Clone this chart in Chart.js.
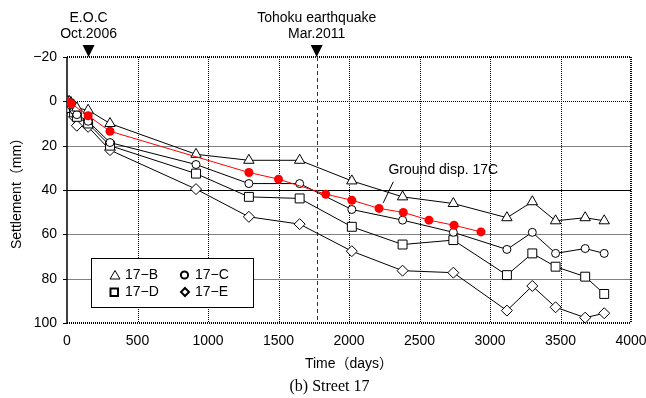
<!DOCTYPE html>
<html>
<head>
<meta charset="utf-8">
<script src="https://cdn.jsdelivr.net/npm/chart.js@4.4.1/dist/chart.umd.min.js"></script>
<style>
html,body{margin:0;padding:0;background:#fff;}
canvas{display:block;}
</style>
</head>
<body>
<canvas id="c" width="646" height="398"></canvas>
<script>
// ---- data ----
const surveyDays = [0, 15, 30, 50, 70, 150, 305, 915, 1290, 1650, 2020, 2380, 2740, 3120, 3300, 3465, 3675, 3810];
const settle17B = [0, 0, 1, 2, 3, 4, 10, 23.9, 26.6, 26.6, 35.9, 43.1, 46.1, 52.5, 45.3, 53.9, 52.5, 53.9];
const settle17C = [0, 0.5, 2, 4, 6, 9, 18.6, 28.5, 37.1, 37.1, 48.8, 53.6, 59.1, 66.8, 59.1, 68.6, 66.4, 68.6];
const settle17D = [0, 1, 3, 5, 7, 10, 20, 32.6, 43.1, 43.8, 56.6, 64.6, 62.6, 78.4, 68.6, 74.6, 79.1, 86.9];
const settle17E = [0, 1, 3, 7, 11, 11.5, 22, 39.6, 52.1, 55.4, 67.6, 76.4, 77.3, 94.4, 83.3, 92.9, 97.6, 95.6];
const groundDays = [0, 30, 150, 305, 1290, 1500, 1835, 2020, 2213, 2385, 2567, 2745, 2936];
const ground17C = [0, 1, 6.5, 13.5, 32.1, 35.1, 41.9, 44.6, 48.3, 50.1, 53.6, 55.9, 58.9];
const xTickValues = [0, 500, 1000, 1500, 2000, 2500, 3000, 3500, 4000];
const yTickValues = [-20, 0, 20, 40, 60, 80, 100];
const eventDays = [153, 1771];
const eventLabels = [["E.O.C", "Oct.2006"], ["Tohoku earthquake", "Mar.2011"]];
const seriesNames = ["17\u2212B", "17\u2212C", "17\u2212D", "17\u2212E"];

function pts(xs, ys) { return xs.map((x, i) => ({x: x, y: ys[i]})); }

const SANS = "'Liberation Sans', Arial, 'Noto Sans CJK JP', sans-serif";

const blackDs = (label, ys, style, r) => ({
  label: label, data: pts(surveyDays, ys), borderColor: '#000', borderWidth: 1,
  pointStyle: style, pointRadius: r, pointBackgroundColor: '#fff',
  pointBorderColor: '#000', pointBorderWidth: 1, showLine: true, tension: 0
});

const decorPlugin = {
  id: 'decor',
  beforeDatasetsDraw(chart) {
    const {ctx, chartArea: a, scales: {x, y}} = chart;
    ctx.save();
    ctx.lineWidth = 1;
    ctx.strokeStyle = '#000';
    ctx.setLineDash([1, 1]);
    xTickValues.forEach(v => {
      if (v === 0 || v === 4000) return;
      const px = Math.round(x.getPixelForValue(v)) + 0.5;
      ctx.beginPath(); ctx.moveTo(px, a.top); ctx.lineTo(px, a.bottom); ctx.stroke();
    });
    yTickValues.forEach(v => {
      if (v === -20 || v === 100) return;
      const py = Math.round(y.getPixelForValue(v)) + 0.5;
      if (v === 0) { ctx.setLineDash([1, 1]); ctx.strokeStyle = '#000'; }
      else if (v === 40) { ctx.setLineDash([]); ctx.strokeStyle = '#000'; }
      else { ctx.setLineDash([]); ctx.strokeStyle = '#808080'; }
      ctx.beginPath(); ctx.moveTo(a.left, py); ctx.lineTo(a.right, py); ctx.stroke();
    });
    ctx.setLineDash([1, 1]);
    ctx.strokeStyle = '#000';
    ctx.lineWidth = 2;
    ctx.beginPath(); ctx.moveTo(a.left, a.top); ctx.lineTo(a.right, a.top); ctx.stroke();
    ctx.beginPath(); ctx.moveTo(a.right, a.top); ctx.lineTo(a.right, a.bottom); ctx.stroke();
    ctx.beginPath(); ctx.moveTo(a.left, a.bottom); ctx.lineTo(a.right, a.bottom); ctx.stroke();
    ctx.setLineDash([]);
    ctx.lineWidth = 1.5;
    ctx.beginPath(); ctx.moveTo(a.left, a.top); ctx.lineTo(a.left, a.bottom); ctx.stroke();
    ctx.lineWidth = 1;
    yTickValues.forEach(v => {
      const py = Math.round(y.getPixelForValue(v)) + 0.5;
      ctx.beginPath(); ctx.moveTo(a.left - 4, py); ctx.lineTo(a.left, py); ctx.stroke();
    });
    const qx = Math.round(x.getPixelForValue(eventDays[1])) + 0.5;
    ctx.setLineDash([4, 3]);
    ctx.strokeStyle = '#333';
    ctx.beginPath(); ctx.moveTo(qx, a.top); ctx.lineTo(qx, a.bottom); ctx.stroke();
    ctx.restore();
  },
  afterDraw(chart) {
    const {ctx, chartArea: a, scales: {x, y}} = chart;
    ctx.save();
    ctx.fillStyle = '#000';
    ctx.strokeStyle = '#000';
    ctx.setLineDash([]);
    eventDays.forEach((d, i) => {
      const px = x.getPixelForValue(d);
      ctx.beginPath();
      ctx.moveTo(px - 6, a.top - 12); ctx.lineTo(px + 6, a.top - 12); ctx.lineTo(px, a.top);
      ctx.closePath(); ctx.fill();
      ctx.font = '14px ' + SANS;
      ctx.textAlign = 'center'; ctx.textBaseline = 'middle';
      ctx.fillText(eventLabels[i][0], px, 18);
      ctx.fillText(eventLabels[i][1], px, 34);
    });
    ctx.font = '14px ' + SANS;
    ctx.textAlign = 'left'; ctx.textBaseline = 'middle';
    ctx.fillText('Ground disp. 17C', x.getPixelForValue(2280), y.getPixelForValue(31));
    ctx.lineWidth = 1;
    ctx.beginPath();
    ctx.moveTo(x.getPixelForValue(2314), y.getPixelForValue(36.3));
    ctx.lineTo(x.getPixelForValue(2243), y.getPixelForValue(45.8));
    ctx.stroke();
    // legend box
    ctx.fillStyle = '#fff';
    ctx.fillRect(91, 258, 162, 49);
    ctx.lineWidth = 1;
    ctx.strokeRect(91.5, 258.5, 162, 49);
    ctx.fillStyle = '#000';
    ctx.lineWidth = 1;
    ctx.beginPath(); ctx.moveTo(115, 270.5); ctx.lineTo(120, 279); ctx.lineTo(110, 279); ctx.closePath(); ctx.stroke();
    ctx.lineWidth = 2;
    ctx.beginPath(); ctx.arc(184.5, 275, 3.6, 0, Math.PI * 2); ctx.stroke();
    ctx.strokeRect(110.5, 288.5, 7.5, 7.5);
    ctx.beginPath(); ctx.moveTo(185, 288); ctx.lineTo(189, 292); ctx.lineTo(185, 296); ctx.lineTo(181, 292); ctx.closePath(); ctx.stroke();
    ctx.font = '14px ' + SANS;
    ctx.textAlign = 'left'; ctx.textBaseline = 'middle';
    ctx.fillText(seriesNames[0], 125, 275);
    ctx.fillText(seriesNames[1], 195, 275);
    ctx.fillText(seriesNames[2], 125, 292);
    ctx.fillText(seriesNames[3], 195, 292);
    ctx.font = '16px "Liberation Serif", "Times New Roman", serif';
    ctx.textAlign = 'center';
    ctx.fillText('(b) Street 17', 329.5, 387);
    ctx.restore();
  }
};

new Chart(document.getElementById('c'), {
  type: 'line',
  data: {
    datasets: [
      { label: 'Ground disp. 17C', data: pts(groundDays, ground17C), borderColor: '#ff0000', borderWidth: 1,
        pointStyle: 'circle', pointRadius: 4.5, pointBackgroundColor: '#ff0000', pointBorderColor: '#ff0000',
        pointBorderWidth: 0, showLine: true, tension: 0 },
      blackDs(seriesNames[0], settle17B, 'triangle', 6),
      blackDs(seriesNames[1], settle17C, 'circle', 4),
      blackDs(seriesNames[2], settle17D, 'rect', 6.3),
      blackDs(seriesNames[3], settle17E, 'rectRot', 5.5)
    ]
  },
  options: {
    responsive: false,
    animation: false,
    layout: { padding: { left: 0, right: 15, top: 57, bottom: 0 } },
    plugins: { legend: { display: false }, tooltip: { enabled: false }, title: { display: false } },
    scales: {
      x: {
        type: 'linear', min: 0, max: 4000,
        grid: { display: false, drawTicks: false },
        border: { display: false },
        afterBuildTicks: s => { s.ticks = xTickValues.map(v => ({value: v})); },
        afterFit: s => { s.height = 75; s.paddingLeft = 0; s.paddingRight = 0; },
        ticks: { padding: 10, color: '#000', font: { size: 14, family: SANS }, maxRotation: 0, callback: v => String(v) },
        title: { display: true, text: 'Time\uFF08days\uFF09', color: '#000', font: { size: 14, family: SANS }, padding: { top: 0, bottom: 25 } }
      },
      y: {
        type: 'linear', min: -20, max: 100, reverse: true,
        grid: { display: false, drawTicks: false },
        border: { display: false },
        afterBuildTicks: s => { s.ticks = yTickValues.map(v => ({value: v})); },
        afterFit: s => { s.width = 67; s.paddingTop = 0; s.paddingBottom = 0; },
        ticks: { padding: 10, color: '#000', font: { size: 14, family: SANS }, callback: v => v < 0 ? '\u2212' + Math.abs(v) : String(v) },
        title: { display: true, text: 'Settlement\uFF08mm\uFF09', color: '#000', font: { size: 14, family: SANS }, padding: { top: 9, bottom: 0 } }
      }
    }
  },
  plugins: [decorPlugin]
});
</script>
</body>
</html>
